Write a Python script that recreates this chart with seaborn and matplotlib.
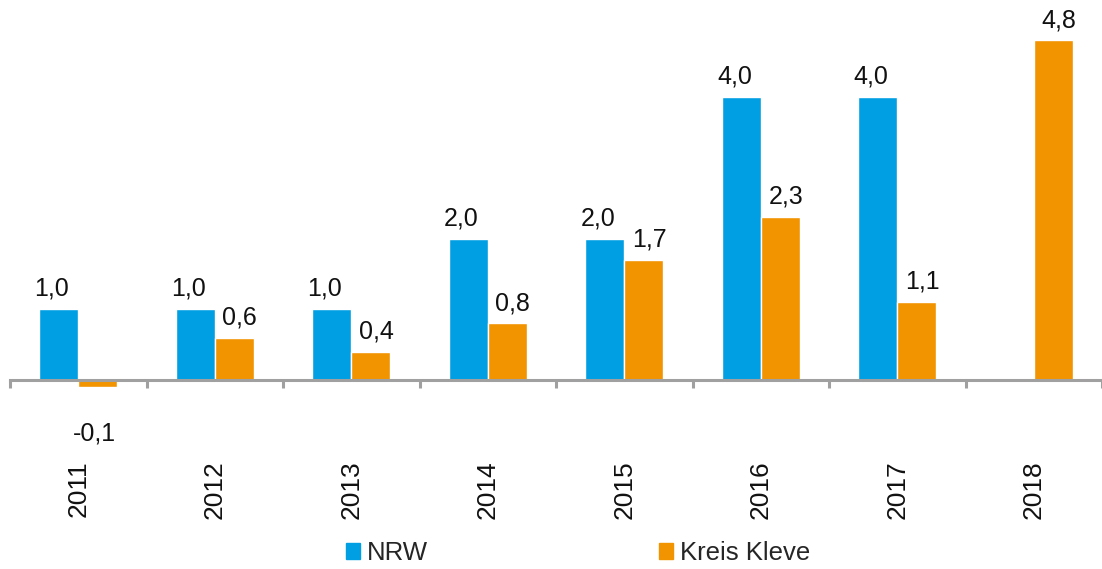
import numpy as np
import pandas as pd
import matplotlib
matplotlib.use('Agg')
import matplotlib.pyplot as plt
import seaborn as sns

# ── DATA ─────────────────────────────────────────────
years = ['2011', '2012', '2013', '2014', '2015', '2016', '2017', '2018']
nrw   = [1.0, 1.0, 1.0, 2.0, 2.0, 4.0, 4.0, np.nan]
kleve = [-0.1, 0.6, 0.4, 0.8, 1.7, 2.3, 1.1, 4.8]
series = ['NRW', 'Kreis Kleve']
colors = ['#009FE3', '#F29400']

df = pd.DataFrame({
    'Jahr':  years * 2,
    'Wert':  nrw + kleve,
    'Reihe': [series[0]] * len(years) + [series[1]] * len(years),
})

sns.set_style('white')
plt.rcParams['font.family'] = ['Liberation Sans', 'DejaVu Sans']

fig = plt.figure(figsize=(11.02, 5.69), dpi=100)
# axes: x from 10px to right edge, y from top to ~440px
ax = fig.add_axes([10 / 1102, 1 - 440 / 569, 1 - 10 / 1102, 440 / 569])

sns.barplot(data=df, x='Jahr', y='Wert', hue='Reihe', order=years,
            hue_order=series, palette=colors, width=0.57, dodge=True,
            errorbar=None, saturation=1, ax=ax, legend=True)

ax.set_xlim(-0.5, 7.5)
ax.set_ylim(-60 / 70.75, 380 / 70.75)

# value labels (NRW a bit left, Kleve a bit right, as in the source)
shifts = [-5, 4]
for cont, dx in zip(ax.containers, shifts):
    for bar in cont:
        h = bar.get_height()
        if np.isnan(h):
            continue
        x = bar.get_x() + bar.get_width() / 2
        txt = f'{h:.1f}'.replace('.', ',')
        if h >= 0:
            ax.annotate(txt, (x, h), xytext=(dx, 6), textcoords='offset points',
                        ha='center', va='bottom', fontsize=18, color='#111111')
        else:
            ax.annotate(txt, (x, h), xytext=(-2, -25), textcoords='offset points',
                        ha='center', va='top', fontsize=18, color='#111111')

# axis styling
for s in ['top', 'right', 'left']:
    ax.spines[s].set_visible(False)
ax.spines['bottom'].set_position(('data', 0))
ax.spines['bottom'].set_color('#A0A0A0')
ax.spines['bottom'].set_linewidth(2.2)
ax.set_yticks([])
ax.set_xlabel('')
ax.set_ylabel('')

ax.set_xticks(range(len(years)))
ax.set_xticklabels(years, rotation=90, fontsize=19, color='#111111')
ax.tick_params(axis='x', which='major', length=0, pad=58)
ax.set_xticks(np.arange(-0.5, len(years) + 0.5, 1), minor=True)
ax.tick_params(axis='x', which='minor', bottom=True, length=6, width=2.2,
               color='#A0A0A0', direction='out')

# legend
ax.get_legend().remove()
handles = [plt.Rectangle((0, 0), 1, 1, color=c) for c in colors]
fig.legend(handles, series, loc='center', ncol=2,
           bbox_to_anchor=(578 / 1102, 1 - 553 / 569), frameon=False,
           fontsize=18.5, handlelength=0.55, handleheight=0.55,
           handletextpad=0.25, columnspacing=9.0, borderpad=0)

fig.savefig('out.png', dpi=100)
